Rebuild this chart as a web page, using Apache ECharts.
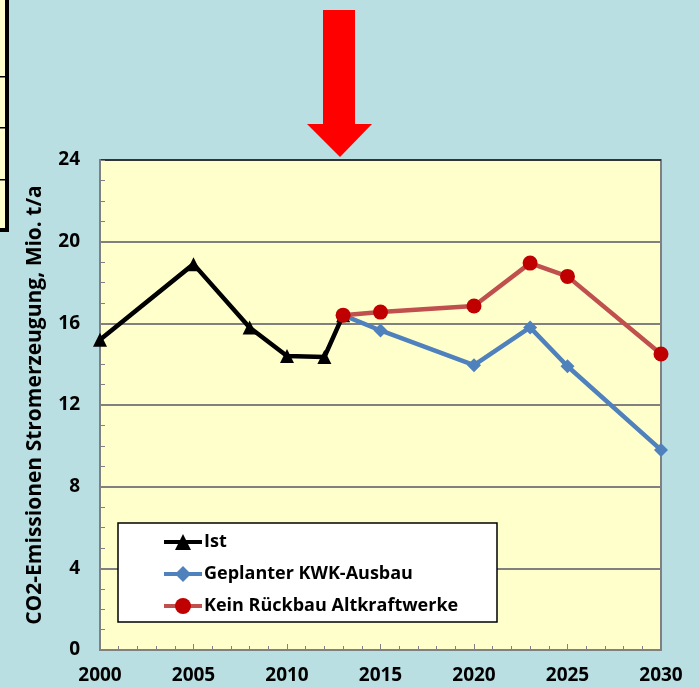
<!DOCTYPE html>
<html>
<head>
<meta charset="utf-8">
<script src="https://cdn.jsdelivr.net/npm/echarts@6/dist/echarts.min.js"></script>
<style>
  html, body { margin: 0; padding: 0; background: #b9dfe2; }
  #chart { width: 699px; height: 687px; }
</style>
</head>
<body>
<div id="chart"></div>
<script>
(function() {
  var istYears = [2000, 2005, 2008, 2010, 2012, 2013];
  var istValues = [15.2, 18.9, 15.8, 14.4, 14.35, 16.4];
  var planYears = [2013, 2015, 2020, 2023, 2025, 2030];
  var kwkValues = [16.4, 15.65, 13.95, 15.8, 13.9, 9.8];
  var keinValues = [16.4, 16.55, 16.85, 18.95, 18.3, 14.5];
  var seriesNames = ['Ist', 'Geplanter KWK-Ausbau', 'Kein Rückbau Altkraftwerke'];
  var yName = 'CO2-Emissionen Stromerzeugung, Mio. t/a';

  function pairs(xs, ys) {
    return xs.map(function(x, i) { return [x, ys[i]]; });
  }

  var font = '"Open Sans", Lato, sans-serif';
  var axisGray = '#808080';

  var chart = echarts.init(document.getElementById('chart'), null, { renderer: 'canvas' });
  chart.setOption({
    animation: false,
    backgroundColor: '#b9dfe2',
    grid: {
      left: 100, right: 38, top: 160, bottom: 37,
      show: true, backgroundColor: '#ffffcc',
      borderColor: axisGray, borderWidth: 2
    },
    xAxis: {
      type: 'value', min: 2000, max: 2030, interval: 5,
      axisLine: { lineStyle: { color: axisGray, width: 2 } },
      axisTick: { inside: true, length: 6, lineStyle: { color: axisGray } },
      minorTick: { show: true, splitNumber: 5, length: 4, lineStyle: { color: axisGray } },
      splitLine: { show: false },
      axisLabel: {
        color: '#000', fontFamily: font, fontWeight: 'bold', fontSize: 19, margin: 16,
        formatter: function(v) { return String(v); }
      }
    },
    yAxis: {
      type: 'value', min: 0, max: 24, interval: 4,
      name: yName, nameLocation: 'middle', nameGap: 54,
      nameTextStyle: { color: '#000', fontFamily: font, fontWeight: 'bold', fontSize: 21 },
      axisLine: { show: true, lineStyle: { color: axisGray, width: 2 } },
      axisTick: { inside: true, length: 5, lineStyle: { color: axisGray } },
      minorTick: { show: true, splitNumber: 4, length: 5, lineStyle: { color: axisGray } },
      splitLine: {
        show: true,
        lineStyle: { color: [axisGray, axisGray, axisGray, axisGray, axisGray, axisGray, '#333333'], width: 2 }
      },
      axisLabel: { color: '#000', fontFamily: font, fontWeight: 'bold', fontSize: 19, margin: 20 }
    },
    legend: {
      orient: 'vertical', left: 157, top: 528, itemGap: 14,
      itemWidth: 38, itemHeight: 20,
      lineStyle: { width: 4 },
      textStyle: { color: '#000', fontFamily: font, fontWeight: 'bold', fontSize: 18, padding: [0, 0, 0, -3] },
      data: seriesNames
    },
    graphic: [
      { type: 'rect', z: 3, shape: { x: 118, y: 523, width: 379, height: 99 },
        style: { fill: '#ffffff', stroke: '#000', lineWidth: 1.5 } },
      // red arrow above the chart
      { type: 'polygon', z: 5,
        shape: { points: [[323, 10], [355, 10], [355, 124], [372, 124], [340, 157], [307, 124], [323, 124]] },
        style: { fill: '#ff0000' } },
      // edge of a neighbouring table on the left
      { type: 'rect', z: 5, shape: { x: 0, y: 0, width: 6, height: 229 }, style: { fill: '#ffffcc' } },
      { type: 'rect', z: 5, shape: { x: 5, y: 0, width: 4, height: 232 }, style: { fill: '#000' } },
      { type: 'rect', z: 5, shape: { x: 0, y: 228, width: 9, height: 4 }, style: { fill: '#000' } },
      { type: 'rect', z: 5, shape: { x: 0, y: 76, width: 9, height: 1.5 }, style: { fill: '#000' } },
      { type: 'rect', z: 5, shape: { x: 0, y: 127, width: 9, height: 1.5 }, style: { fill: '#000' } },
      { type: 'rect', z: 5, shape: { x: 0, y: 179, width: 9, height: 1.5 }, style: { fill: '#000' } }
    ],
    series: [
      {
        name: seriesNames[0], type: 'line', z: 4,
        data: pairs(istYears, istValues),
        symbol: 'triangle', symbolSize: 14,
        lineStyle: { color: '#000', width: 4.5 },
        itemStyle: { color: '#000' }
      },
      {
        name: seriesNames[1], type: 'line', z: 5,
        data: pairs(planYears, kwkValues),
        symbol: 'diamond', symbolSize: 14,
        lineStyle: { color: '#4f81bd', width: 4.5 },
        itemStyle: { color: '#4f81bd' }
      },
      {
        name: seriesNames[2], type: 'line', z: 6,
        data: pairs(planYears, keinValues),
        symbol: 'circle', symbolSize: 15,
        lineStyle: { color: '#c0504d', width: 4.5 },
        itemStyle: { color: '#c00000' }
      }
    ]
  });
})();
</script>
</body>
</html>
